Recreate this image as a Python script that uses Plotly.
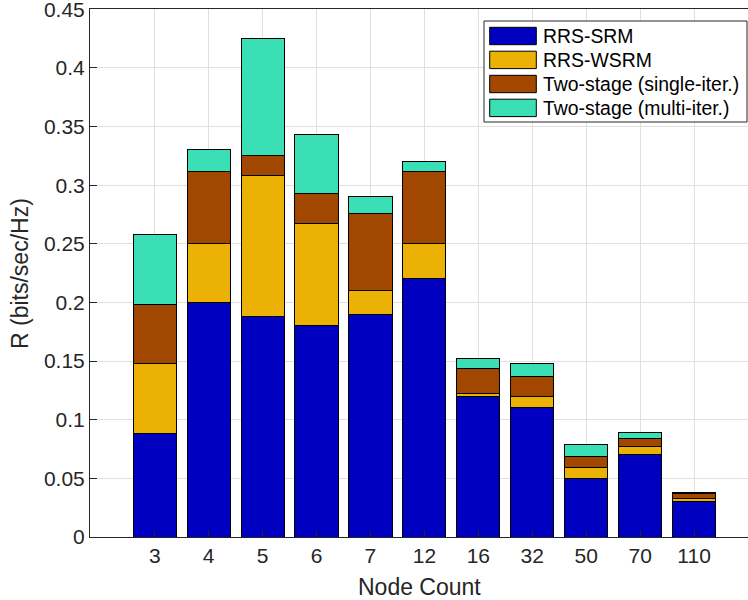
import plotly.graph_objects as go

categories = ["3", "4", "5", "6", "7", "12", "16", "32", "50", "70", "110"]
rrs_srm = [0.088, 0.200, 0.188, 0.180, 0.190, 0.220, 0.120, 0.110, 0.050, 0.070, 0.030]
rrs_wsrm = [0.060, 0.050, 0.120, 0.087, 0.020, 0.030, 0.002, 0.010, 0.009, 0.007, 0.003]
two_single = [0.050, 0.062, 0.017, 0.026, 0.066, 0.062, 0.022, 0.017, 0.010, 0.007, 0.004]
two_multi = [0.060, 0.018, 0.100, 0.050, 0.014, 0.008, 0.008, 0.011, 0.010, 0.005, 0.001]
y_ticks = [0, 0.05, 0.1, 0.15, 0.2, 0.25, 0.3, 0.35, 0.4, 0.45]

series = [
    ("RRS-SRM", rrs_srm, "#0000C0"),
    ("RRS-WSRM", rrs_wsrm, "#EBB105"),
    ("Two-stage (single-iter.)", two_single, "#A24700"),
    ("Two-stage (multi-iter.)", two_multi, "#3BDFB5"),
]

fig = go.Figure()
for name, vals, col in series:
    fig.add_trace(go.Bar(
        x=categories, y=vals, name=name,
        marker=dict(color=col, line=dict(color="#000000", width=1)),
        showlegend=False,
    ))

# plot area geometry (page pixels) used to place the legend box
PX_L, PX_R, PX_T, PX_B = 90.0, 748.0, 9.0, 537.0


def px2x(px):
    return (px - PX_L) / (PX_R - PX_L)


def py2y(py):
    return (PX_B - py) / (PX_B - PX_T)


shapes = []
annotations = []
# legend frame
shapes.append(dict(type="rect", xref="paper", yref="paper",
                   x0=px2x(484), x1=px2x(747), y0=py2y(122), y1=py2y(21),
                   line=dict(color="#262626", width=1), fillcolor="white", layer="above"))
row_centers = [36.0, 59.9, 84.0, 107.9]
for (name, _, col), cy in zip(series, row_centers):
    shapes.append(dict(type="rect", xref="paper", yref="paper",
                       x0=px2x(489.7), x1=px2x(536.3),
                       y0=py2y(cy + 8.7), y1=py2y(cy - 8.7),
                       line=dict(color="#000000", width=1), fillcolor=col, layer="above"))
    annotations.append(dict(text=name, xref="paper", yref="paper",
                            x=px2x(540.5), y=py2y(cy), xanchor="left", yanchor="middle",
                            showarrow=False, font=dict(size=19.4, color="#000000")))

annotations.append(dict(text="Node Count", xref="paper", yref="paper", x=0.5, y=-0.0947,
                        xanchor="center", yanchor="middle", showarrow=False,
                        font=dict(size=23, color="#262626")))
annotations.append(dict(text="R (bits/sec/Hz)", xref="paper", yref="paper", x=-0.1064, y=0.5,
                        xanchor="center", yanchor="middle", showarrow=False, textangle=-90,
                        font=dict(size=23, color="#262626")))

font_family = "Liberation Sans, Arial, sans-serif"
fig.update_layout(
    barmode="stack",
    bargap=0.2,
    width=748, height=600,
    margin=dict(l=90, r=0, t=9, b=63),
    paper_bgcolor="white",
    plot_bgcolor="white",
    font=dict(family=font_family, size=21, color="#262626"),
    showlegend=False,
    xaxis=dict(
        type="category",
        range=[-1.2, 11.0],
        automargin=False,
        showline=True, linecolor="#262626", linewidth=1, mirror=True,
        ticks="inside", ticklen=7, tickcolor="#262626",
        showgrid=True, gridcolor="#E0E0E0",
        tickfont=dict(size=21),
    ),
    yaxis=dict(
        range=[0, 0.4502],
        automargin=False,
        tickvals=y_ticks,
        ticktext=[("%g" % v) for v in y_ticks],
        ticklabeloverflow="allow",
        showline=True, linecolor="#262626", linewidth=1, mirror=False,
        ticks="inside", ticklen=7, tickcolor="#262626",
        showgrid=True, gridcolor="#E0E0E0",
        zeroline=False,
        tickfont=dict(size=21),
    ),
    shapes=shapes,
    annotations=annotations,
)

fig.write_html("out.html", config={"displayModeBar": False},
               post_script="document.body.style.margin='0';")
